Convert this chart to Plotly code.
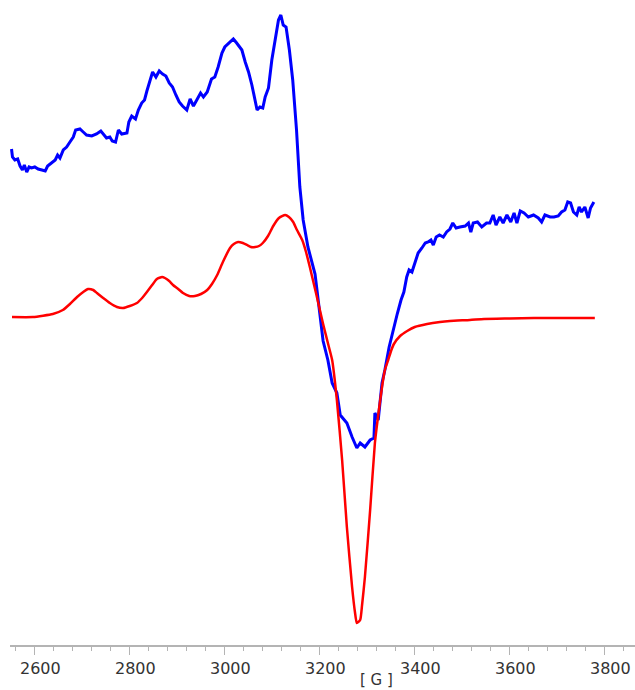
import plotly.graph_objects as go

# Experimental spectrum (blue): field [G], intensity (arb. units)
exp_field = [2552, 2554, 2559, 2565, 2570, 2575, 2579, 2584, 2589, 2594, 2601, 2608, 2616, 2623,
             2628, 2637, 2644, 2649, 2654, 2661, 2668, 2675, 2682, 2687, 2696, 2703, 2710, 2721,
             2731, 2740, 2745, 2752, 2759, 2764, 2771, 2777, 2784, 2795, 2799, 2805, 2813, 2819,
             2826, 2832, 2837, 2844, 2849, 2856, 2863, 2870, 2877, 2884, 2891, 2898, 2905, 2912,
             2921, 2928, 2935, 2942, 2950, 2956, 2964, 2973, 2980, 2987, 2995, 3001, 3011, 3019,
             3026, 3037, 3044, 3051, 3058, 3065, 3069, 3075, 3081, 3086, 3093, 3100, 3107, 3114,
             3119, 3124, 3130, 3137, 3144, 3149, 3152, 3159, 3166, 3176, 3191, 3208, 3218, 3227,
             3237, 3244, 3258, 3269, 3279, 3286, 3296, 3307, 3315, 3317, 3324, 3332, 3338, 3347,
             3355, 3364, 3372, 3378, 3384, 3389, 3395, 3401, 3408, 3416, 3423, 3429, 3435, 3440,
             3446, 3453, 3461, 3468, 3475, 3481, 3488, 3496, 3507, 3514, 3519, 3524, 3533, 3542,
             3552, 3559, 3566, 3572, 3580, 3587, 3595, 3603, 3610, 3616, 3623, 3631, 3640, 3651,
             3661, 3668, 3675, 3686, 3694, 3703, 3710, 3717, 3723, 3729, 3735, 3742, 3747, 3752,
             3759, 3766, 3771, 3778]
exp_int = [168, 160, 157, 158, 151, 147, 152, 145, 150, 149, 150, 148, 147, 146,
           151, 154, 157, 162, 159, 167, 170, 175, 180, 187, 188, 185, 182, 181,
           183, 186, 183, 179, 180, 176, 175, 187, 183, 184, 195, 201, 198, 207,
           214, 217, 226, 236, 245, 240, 246, 243, 241, 234, 230, 222, 215, 211,
           207, 218, 211, 217, 224, 220, 225, 238, 240, 250, 264, 270, 274, 278,
           274, 267, 255, 245, 232, 217, 207, 210, 209, 220, 229, 257, 277, 297,
           302, 292, 290, 267, 237, 210, 187, 130, 97, 70, 43, -24, -43, -66,
           -76, -98, -106, -120, -131, -126, -130, -123, -121, -96, -103, -66, -53, -30,
           -13, 3, 17, 25, 40, 47, 45, 55, 64, 69, 74, 75, 77, 72,
           80, 82, 80, 85, 88, 94, 89, 90, 91, 94, 85, 94, 95, 90,
           94, 94, 102, 92, 100, 94, 102, 95, 104, 94, 106, 104, 100, 102,
           99, 95, 102, 100, 100, 101, 105, 107, 115, 114, 105, 102, 110, 105,
           110, 99, 109, 115]

# Simulated spectrum (red)
sim_field = [2553, 2597, 2639, 2660, 2675, 2690, 2703, 2713, 2724, 2732, 2745, 2759, 2774, 2787,
             2801, 2816, 2827, 2837, 2848, 2858, 2869, 2875, 2884, 2892, 2903, 2913, 2926, 2938,
             2951, 2964, 2974, 2985, 2997, 3012, 3020, 3029, 3039, 3048, 3056, 3065, 3073, 3081,
             3092, 3103, 3115, 3128, 3136, 3145, 3153, 3164, 3172, 3180, 3193, 3208, 3218, 3227,
             3237, 3248, 3258, 3269, 3275, 3279, 3286, 3290, 3296, 3307, 3317, 3324, 3332, 3338,
             3345, 3351, 3357, 3370, 3385, 3401, 3427, 3454, 3475, 3517, 3547, 3601, 3652, 3707,
             3780]
sim_int = [0, 0, 3, 7, 13, 20, 25, 28, 27, 24, 19, 14, 10, 9,
           11, 14, 19, 25, 32, 38, 40, 39, 36, 32, 28, 24, 21, 21,
           23, 27, 33, 42, 55, 69, 73, 75, 74, 72, 70, 70, 71, 74,
           81, 91, 99, 102, 100, 95, 87, 77, 65, 50, 24, -7, -26, -43,
           -83, -143, -210, -270, -295, -306, -303, -288, -260, -193, -126, -98, -70, -53,
           -43, -34, -27, -19, -14, -10, -7, -5, -4, -3, -2, -1.5, -1, -1,
           -1]

tick_vals = [2600, 2800, 3000, 3200, 3400, 3600, 3800]
tick_text = ["2600", "2800", "3000", "3200", "3400", "3600", "3800"]
x_title = "[ G ]"

fig = go.Figure()
fig.add_trace(go.Scatter(x=exp_field, y=exp_int, mode="lines",
                         line=dict(color="#0000ff", width=3), showlegend=False))
fig.add_trace(go.Scatter(x=sim_field, y=sim_int, mode="lines",
                         line=dict(color="#ff0000", width=2.5, shape="spline", smoothing=0.5),
                         showlegend=False))

fig.update_layout(
    width=635, height=690,
    margin=dict(l=10, r=0, t=0, b=45),
    paper_bgcolor="white", plot_bgcolor="white",
    xaxis=dict(range=[2548.8, 3864.6], showgrid=False, zeroline=False,
               showline=True, linecolor="#b4b4b4", linewidth=2,
               tickmode="array", tickvals=tick_vals, ticktext=tick_text,
               ticks="outside", ticklen=8, tickcolor="#b4b4b4", tickwidth=1,
               ticklabelshift=6,
               tickfont=dict(family="DejaVu Sans", size=16, color="#333333"),
               minor=dict(dtick=40, tick0=2600, ticks="outside", ticklen=4,
                          tickcolor="#b4b4b4", tickwidth=1, showgrid=False)),
    yaxis=dict(range=[-328, 317], visible=False, showgrid=False, zeroline=False),
    annotations=[dict(text=x_title, xref="paper", yref="paper",
                      x=(376 - 10) / 625, y=-(680 - 645) / 645,
                      xanchor="center", yanchor="middle", showarrow=False,
                      font=dict(family="DejaVu Sans", size=15, color="#333333"))],
)

fig.write_html("out.html")
